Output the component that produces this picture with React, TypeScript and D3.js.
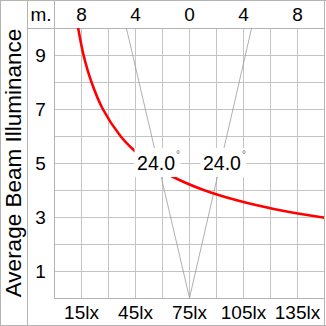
import React from "react";
import * as d3 from "d3";

// ---- data ----
const distanceTicks = [1, 3, 5, 7, 9];
const meterTicks = [-8, -4, 0, 4, 8];
const luxTicks = [15, 45, 75, 105, 135];
const luxTickLabels = ["15lx", "45lx", "75lx", "105lx", "135lx"];
// red curve: average beam illuminance (lux) at distance (m)
const curveDistance = [10.2, 10, 9, 8, 7, 6, 5.5, 5, 4.5, 4, 3.6, 3.3, 3, 2.9];
const curveLux = [12.8, 13.4, 16.4, 20.8, 27.1, 36.9, 44, 53.2, 65.7, 83.1, 102.6, 122.1, 147.8, 158.1];
const beamAngleLabel = "24.0";
const beamEdgeDistance = 10;
const beamEdgeHalfWidth = 4.64; // m at beamEdgeDistance
const labelDistance = 5;
const labelOffsetM = 2.44;

const W = 326;
const H = 326;
const FONT = "'Liberation Sans', Arial, Helvetica, sans-serif";

export default function App() {
  const left = 54, right = 324, top = 28, bottom = 298;
  const xM = d3.scaleLinear().domain([-10, 10]).range([left, right]);
  const xLux = d3.scaleLinear().domain([0, 150]).range([left, right]);
  const y = d3.scaleLinear().domain([0, 10]).range([bottom, top]);

  const gridX = d3.range(0, 151, 15).map((v) => xLux(v));
  const gridY = d3.range(0, 11, 1).map((v) => y(v));

  const pts: [number, number][] = curveLux
    .map((l, i) => [l, curveDistance[i]] as [number, number])
    .sort((a, b) => a[0] - b[0]);
  const line = d3
    .line<[number, number]>()
    .x((d) => xLux(d[0]))
    .y((d) => y(d[1]))
    .curve(d3.curveCatmullRom.alpha(0.5));

  const apexX = xM(0), apexY = y(0);
  const beamL = [xM(-beamEdgeHalfWidth), y(beamEdgeDistance)];
  const beamR = [xM(beamEdgeHalfWidth), y(beamEdgeDistance)];

  const gridColor = "#c4c4c4";
  const frameColor = "#b4b4b4";

  const labels = [-labelOffsetM, labelOffsetM].map((m) => ({ cx: xM(m), cy: y(labelDistance) }));
  const tickSize = 19;

  return (
    <svg
      width={W}
      height={H}
      style={{ position: "fixed", left: 0, top: 0, background: "#fff" }}
      fontFamily={FONT}
    >
      <defs>
        <clipPath id="plotClip">
          <rect x={left} y={top} width={right - left} height={bottom - top} />
        </clipPath>
      </defs>
      <rect x={0} y={0} width={W} height={H} fill="#fff" />
      {/* grid */}
      {gridX.map((gx, i) => (
        <line key={"gx" + i} x1={gx + 0.5} x2={gx + 0.5} y1={top} y2={bottom} stroke={gridColor} strokeWidth={1} />
      ))}
      {gridY.map((gy, i) => (
        <line key={"gy" + i} x1={left} x2={right} y1={gy + 0.5} y2={gy + 0.5} stroke={gridColor} strokeWidth={1} />
      ))}
      {/* frame */}
      <line x1={0.5} x2={0.5} y1={0} y2={H} stroke={frameColor} />
      <line x1={27.5} x2={27.5} y1={0} y2={H} stroke={frameColor} />
      <line x1={left + 0.5} x2={left + 0.5} y1={0} y2={bottom} stroke={frameColor} />
      <line x1={right + 0.5} x2={right + 0.5} y1={0} y2={H} stroke={frameColor} />
      <line x1={0} x2={W} y1={0.5} y2={0.5} stroke={frameColor} />
      <line x1={27} x2={right} y1={top + 0.5} y2={top + 0.5} stroke={frameColor} />
      <line x1={left} x2={right} y1={bottom + 0.5} y2={bottom + 0.5} stroke={frameColor} />
      <line x1={0} x2={W} y1={H - 0.5} y2={H - 0.5} stroke={frameColor} />

      {/* beam */}
      <g clipPath="url(#plotClip)">
        <line x1={apexX + 0.5} y1={apexY} x2={beamL[0]} y2={beamL[1]} stroke="#9a9a9a" strokeWidth={0.8} />
        <line x1={apexX + 0.5} y1={apexY} x2={beamR[0]} y2={beamR[1]} stroke="#9a9a9a" strokeWidth={0.8} />
        <path d={line(pts) || ""} fill="none" stroke="#ff0000" strokeWidth={2.6} />
      </g>

      {/* beam angle labels */}
      {labels.map((lb, i) => (
        <g key={"lb" + i}>
          <rect x={lb.cx - 21.5} y={lb.cy - 15} width={46} height={29} fill="#fff" />
          <text x={lb.cx} y={lb.cy + 6.5} textAnchor="middle" fontSize={19.5} fill="#000">
            {beamAngleLabel}
          </text>
          <text x={lb.cx + 20} y={lb.cy - 5} textAnchor="start" fontSize={10} fill="#666">
            °
          </text>
        </g>
      ))}

      {/* top axis */}
      <text x={41} y={21} textAnchor="middle" fontSize={tickSize} fill="#000">m.</text>
      {meterTicks.map((m, i) => (
        <text key={"mt" + i} x={xM(m) + 0.5} y={21} textAnchor="middle" fontSize={tickSize} fill="#000">
          {Math.abs(m)}
        </text>
      ))}
      {/* left axis */}
      {distanceTicks.map((d, i) => (
        <text key={"dt" + i} x={40.5} y={y(d) + 7} textAnchor="middle" fontSize={tickSize} fill="#000">
          {d}
        </text>
      ))}
      {/* bottom axis */}
      {luxTicks.map((l, i) => (
        <text key={"lt" + i} x={xLux(l) + 0.5} y={318.5} textAnchor="middle" fontSize={tickSize} fill="#000">
          {luxTickLabels[i]}
        </text>
      ))}
      {/* title */}
      <text
        transform={`translate(20.5, ${(top + bottom) / 2 + 0}) rotate(-90)`}
        textAnchor="middle"
        fontSize={22.5}
        fill="#000"
      >
        Average Beam Illuminance
      </text>
    </svg>
  );
}
